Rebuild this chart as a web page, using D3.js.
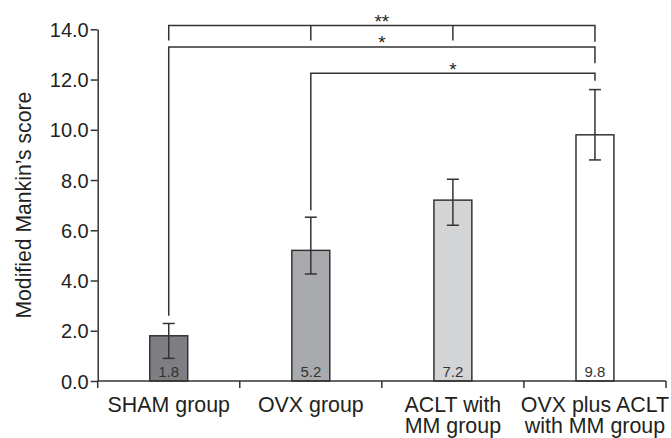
<!DOCTYPE html>
<html><head><meta charset="utf-8">
<script src="https://cdn.jsdelivr.net/npm/d3@7"></script>
<style>html,body{margin:0;padding:0;background:#fff;} svg{display:block;}</style>
</head><body>
<svg id="c" width="671" height="438"></svg>
<script>
const categories = ["SHAM group", "OVX group", "ACLT with|MM group", "OVX plus ACLT|with MM group"];
const values = [1.8, 5.2, 7.2, 9.8];
const errHigh = [2.29, 6.52, 8.03, 11.6];
const errLow = [0.9, 4.26, 6.2, 8.8];
const fills = ["#7e7f83", "#a9aaae", "#d3d4d6", "#ffffff"];
const yTicks = [0, 2, 4, 6, 8, 10, 12, 14];
// brackets: comparisons between groups with significance labels
const brackets = [
  {from: 0, to: 3, level: 14.15, label: "**", mids: [1, 2], leftEnd: 13.55, rightEnd: 13.5},
  {from: 0, to: 3, level: 13.3, label: "*", mids: [], leftEnd: 2.6, rightEnd: 12.65},
  {from: 1, to: 3, level: 12.25, label: "*", mids: [], leftEnd: 6.8, rightEnd: 11.95}
];

(function () {
const svg = d3.select("#c");
const mLeft = 97.7, mRight = 666, mTop = 29.3, mBottom = 381;
const ink = "#333333", txt = "#231f20";
const font = "Liberation Sans, Arial, sans-serif";

const x = d3.scaleBand().domain(categories).range([mLeft, mRight]).paddingInner(0).paddingOuter(0);
const y = d3.scaleLinear().domain([0, 14]).range([mBottom, mTop]);
const bw = x.bandwidth() * 0.267;
const cx = i => x(categories[i]) + x.bandwidth() / 2;

// bars
svg.selectAll("rect.bar").data(values).enter().append("rect")
  .attr("x", (d, i) => cx(i) - bw / 2)
  .attr("y", d => y(d))
  .attr("width", bw)
  .attr("height", d => y(0) - y(d))
  .attr("fill", (d, i) => fills[i])
  .attr("stroke", ink).attr("stroke-width", 1.5);

// value labels
svg.selectAll("text.val").data(values).enter().append("text")
  .attr("x", (d, i) => cx(i))
  .attr("y", y(0) - 4.5)
  .attr("text-anchor", "middle")
  .attr("font-family", font).attr("font-size", 15).attr("fill", "#333")
  .text(d => d.toFixed(1));

// error bars
const eg = svg.append("g").attr("stroke", ink).attr("stroke-width", 1.5);
values.forEach((v, i) => {
  const c = cx(i);
  eg.append("line").attr("x1", c).attr("x2", c).attr("y1", y(errHigh[i])).attr("y2", y(errLow[i]));
  eg.append("line").attr("x1", c - 6).attr("x2", c + 6).attr("y1", y(errHigh[i])).attr("y2", y(errHigh[i]));
  eg.append("line").attr("x1", c - 6).attr("x2", c + 6).attr("y1", y(errLow[i])).attr("y2", y(errLow[i]));
});

// axes
const yAxis = d3.axisLeft(y).tickValues(yTicks).tickSize(7).tickSizeOuter(0).tickFormat(d3.format(".1f"));
const gy = svg.append("g").attr("transform", `translate(${mLeft},0)`).call(yAxis);
gy.select(".domain").attr("stroke", ink).attr("stroke-width", 1.5);
gy.selectAll(".tick line").attr("stroke", ink).attr("stroke-width", 1.5);
gy.selectAll(".tick text").attr("font-family", font).attr("font-size", 20).attr("fill", txt).attr("x", -9).attr("dy", "0.35em");

svg.append("line").attr("x1", mLeft).attr("x2", mRight).attr("y1", mBottom).attr("y2", mBottom)
  .attr("stroke", ink).attr("stroke-width", 1.5);
const bounds = categories.map(c => x(c)).concat([mRight]);
svg.selectAll("line.xt").data(bounds).enter().append("line")
  .attr("x1", d => d).attr("x2", d => d).attr("y1", mBottom).attr("y2", mBottom + 7)
  .attr("stroke", ink).attr("stroke-width", 1.5);

// category labels
categories.forEach((c, i) => {
  const lines = c.split("|");
  const t = svg.append("text").attr("text-anchor", "middle")
    .attr("font-family", font).attr("font-size", 21.4).attr("fill", txt);
  lines.forEach((l, j) => {
    t.append("tspan").attr("x", cx(i)).attr("y", 411.5 + j * 21.8).text(l);
  });
});

// y title
svg.append("text").attr("transform", `translate(31,${(mTop + mBottom) / 2}) rotate(-90)`)
  .attr("text-anchor", "middle").attr("font-family", font).attr("font-size", 21.2).attr("fill", txt)
  .text("Modified Mankin’s score");

// significance brackets
const bg = svg.append("g").attr("stroke", ink).attr("stroke-width", 1.5).attr("fill", "none");
brackets.forEach(b => {
  const x1 = cx(b.from), x2 = cx(b.to), yl = y(b.level);
  bg.append("path").attr("d", `M${x1},${y(b.leftEnd)}V${yl}H${x2}V${y(b.rightEnd)}`);
  b.mids.forEach(m => {
    bg.append("line").attr("x1", cx(m)).attr("x2", cx(m)).attr("y1", yl).attr("y2", y(b.leftEnd));
  });
});
svg.selectAll("text.sig").data(brackets).enter().append("text")
  .attr("x", b => b.from === 0 ? (cx(b.from) + cx(b.to)) / 2 : cx(2))
  .attr("y", b => y(b.level) + 2.5)
  .attr("text-anchor", "middle").attr("font-family", font).attr("font-size", 19).attr("fill", txt)
  .text(b => b.label);
})();
</script>
</body></html>
